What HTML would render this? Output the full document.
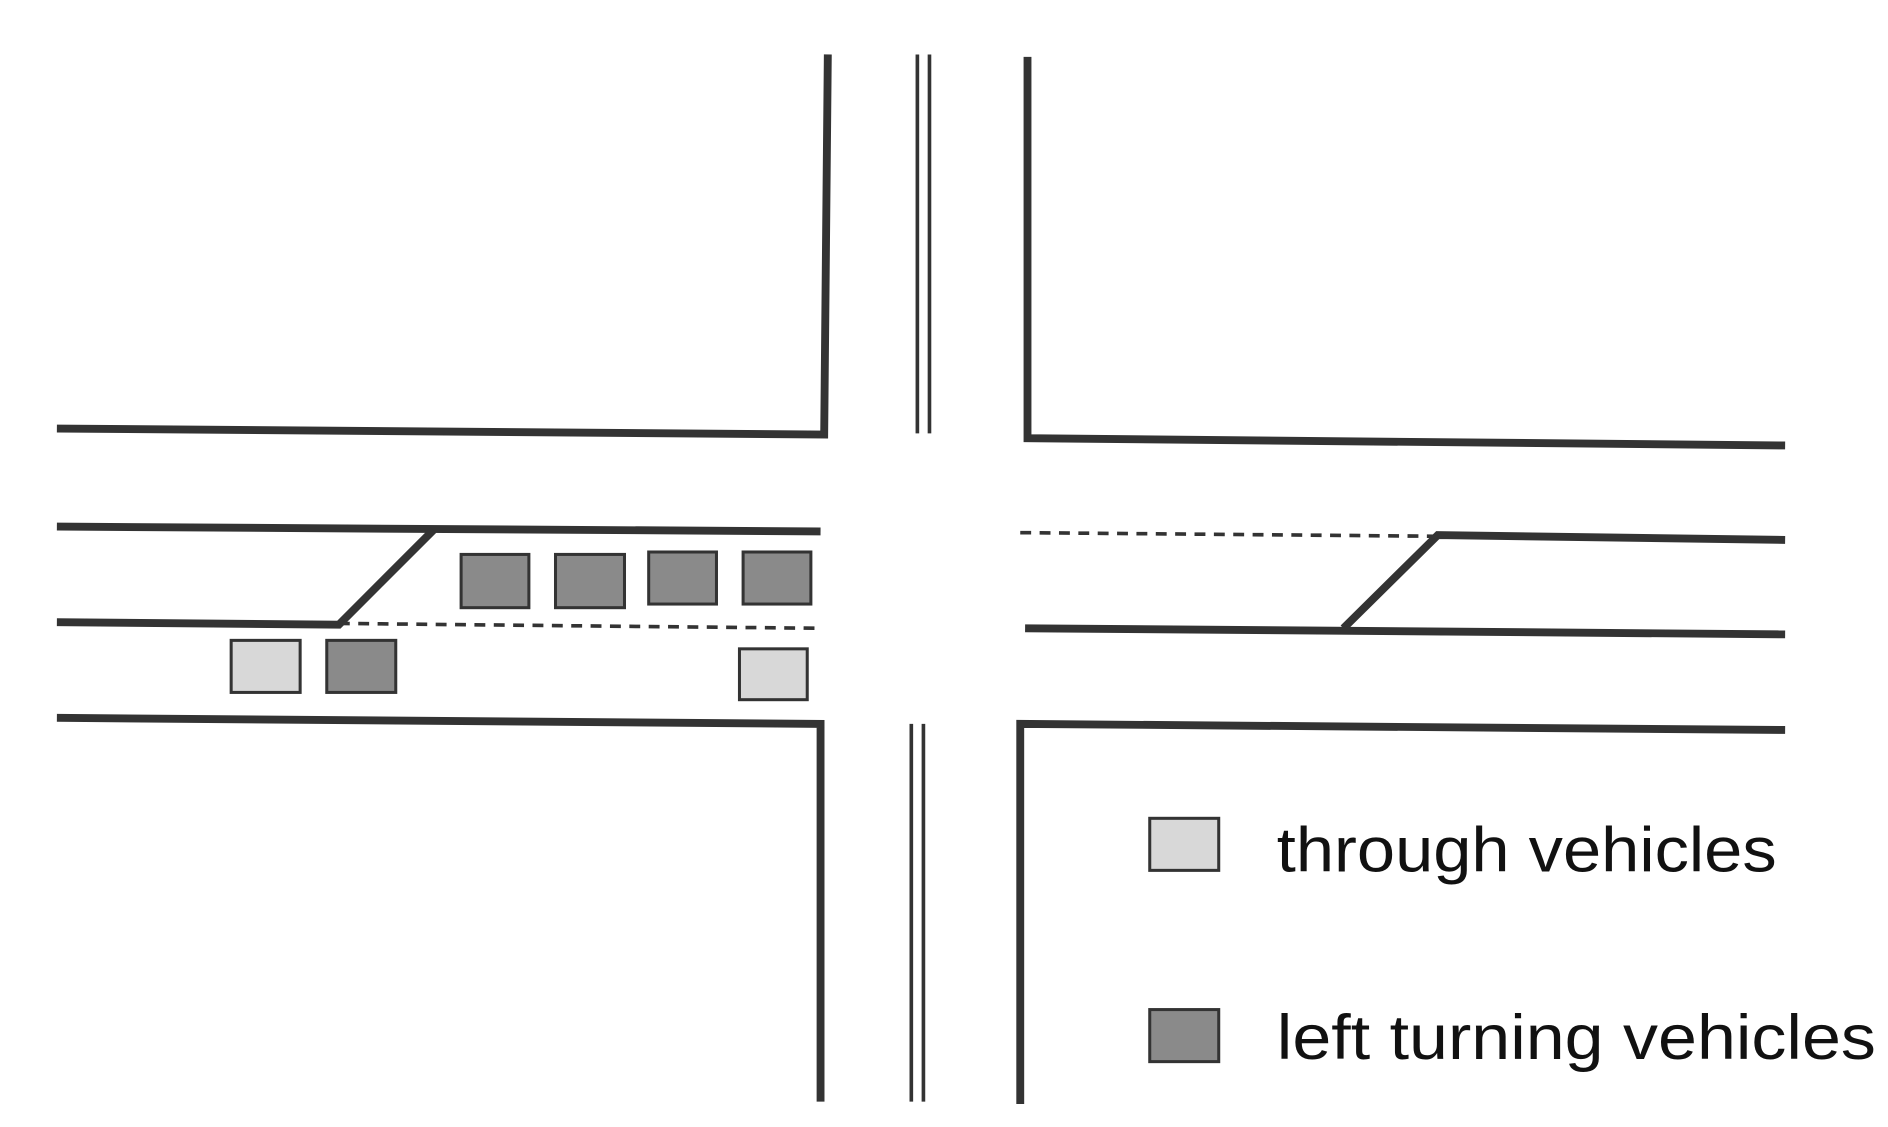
<!DOCTYPE html>
<html><head><style>html,body{margin:0;padding:0;background:#fff;}svg{display:block}</style></head>
<body>
<svg width="1888" height="1127" viewBox="0 0 1560 931" preserveAspectRatio="none" xmlns="http://www.w3.org/2000/svg">
<g stroke="#333" stroke-width="6.5" fill="none">
<polyline points="47,354 681,359 684,45"/>
<polyline points="849,47 849,362 1475,368"/>
<line x1="47" y1="435" x2="678" y2="439"/>
<polyline points="47,514 280,516 358,438"/>
<polyline points="47,593 678,598 678,910"/>
<polyline points="843,912 843,598 1475,603"/>
<polyline points="1110,519 1188,442 1475,446"/>
<line x1="847" y1="519" x2="1475" y2="524"/>
</g>
<g stroke="#333" stroke-width="3" fill="none">
<line x1="758" y1="45" x2="758" y2="358"/>
<line x1="768" y1="45" x2="768" y2="358"/>
<line x1="753" y1="598" x2="753" y2="910"/>
<line x1="763" y1="598" x2="763" y2="910"/>
<line x1="280" y1="515" x2="678" y2="519" stroke-dasharray="9,7"/>
<line x1="843" y1="440" x2="1188" y2="443" stroke-dasharray="9,7"/>
</g>
<g stroke="#333" stroke-width="2.5">
<rect x="381" y="458" width="56" height="44" fill="#8a8a8a"/>
<rect x="459" y="458" width="57" height="44" fill="#8a8a8a"/>
<rect x="536" y="456" width="56" height="43" fill="#8a8a8a"/>
<rect x="614" y="456" width="56" height="43" fill="#8a8a8a"/>
<rect x="191" y="529" width="57" height="43" fill="#d8d8d8"/>
<rect x="270" y="529" width="57" height="43" fill="#8a8a8a"/>
<rect x="611" y="536" width="56" height="42" fill="#d8d8d8"/>
<rect x="950" y="676" width="57" height="43" fill="#d8d8d8"/>
<rect x="950" y="834" width="57" height="43" fill="#8a8a8a"/>
</g>
<g font-family="Liberation Sans, sans-serif" font-size="52" fill="#111">
<text x="1055" y="720" textLength="413" lengthAdjust="spacingAndGlyphs">through vehicles</text>
<text x="1055" y="875" textLength="495" lengthAdjust="spacingAndGlyphs">left turning vehicles</text>
</g>
</svg>
</body></html>
